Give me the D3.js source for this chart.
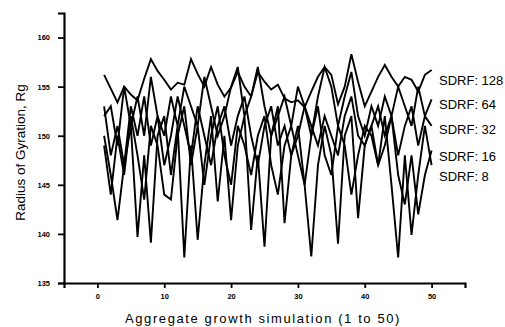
<!DOCTYPE html>
<html>
<head>
<meta charset="utf-8">
<script src="https://cdn.jsdelivr.net/npm/d3@7"></script>
<style>
  body { margin: 0; background: #fff; }
  svg { display: block; font-family: Arial, "Liberation Sans", sans-serif; }
</style>
</head>
<body>
<svg id="chart" width="505" height="327"></svg>
<script>
// simulation index 1..50
const runs = d3.range(1, 51);

const sdrf128 = [156.2, 154.8, 153.4, 155.0, 154.2, 153.6, 155.8, 157.8, 156.6, 155.7,
                 154.7, 155.4, 155.2, 157.8, 156.3, 155.0, 157.0, 155.2, 154.0, 154.9,
                 156.5, 155.0, 154.0, 156.5, 155.5, 154.7, 155.2, 153.8, 153.4, 153.6,
                 152.9, 154.5, 156.0, 157.0, 156.2, 153.2, 155.0, 158.3, 155.5, 153.0,
                 154.5, 156.0, 157.2, 156.0, 155.0, 156.0, 155.7, 154.5, 156.2, 156.7];
const sdrf64 = [152, 153, 149, 155, 151, 154, 150, 156, 152, 150,
                154, 151, 155, 153, 151, 156, 153, 150, 152, 155,
                157, 152, 154, 157, 153, 150, 152, 154, 151, 155,
                153, 150, 154, 157, 155, 151, 154, 156.5, 152, 150,
                153, 151, 154, 152, 155, 153, 151, 155, 152, 153.7];
const sdrf32 = [153, 148, 151, 147, 153, 150, 154, 149, 152, 147,
                150, 154, 151, 148, 153, 150, 147, 151, 153, 149,
                152, 154, 150, 147, 151, 153, 149, 151, 148, 150,
                153, 151, 149, 152, 150, 148, 152, 154, 150, 149,
                151, 153, 150, 152, 148, 151, 153, 149, 152, 151];
const sdrf16 = [149, 144, 150, 146, 152, 148, 143.5, 151, 149, 144,
                143.5, 150, 153, 147, 151, 145, 150, 153, 148, 145,
                151, 149, 146, 150, 152, 147, 144, 149, 151, 148,
                145, 150, 153, 148, 146, 151, 149, 144, 148, 151,
                150, 147, 149, 152, 146, 143, 148, 142, 146, 148.5];
const sdrf8 = [150, 146, 141.4, 147, 151, 139.7, 148, 139.1, 150, 152,
               146, 151, 137.6, 149, 139.4, 147, 152, 143.3, 150, 141.4,
               149, 152, 140.4, 148, 138.7, 150, 153, 141.1, 148, 151,
               145, 137.7, 147, 151, 148, 139, 150, 152, 141.6, 149,
               151, 147, 152, 145, 137.6, 148, 139.9, 146, 151, 147];

const seriesNames = ["SDRF: 128", "SDRF: 64", "SDRF: 32", "SDRF: 16", "SDRF: 8"];
const seriesValues = [sdrf128, sdrf64, sdrf32, sdrf16, sdrf8];
const legendY = [85, 109, 134, 161, 181];

const xTicks = [0, 10, 20, 30, 40, 50];
const yTicks = [135, 140, 145, 150, 155, 160];

const svg = d3.select("#chart");

const x = d3.scaleLinear().domain([-5, 55]).range([64, 465]);
const y = d3.scaleLinear().domain([135, 162.5]).range([283, 13]);

// lines
const line = d3.line()
    .x((d, i) => x(runs[i]))
    .y(d => y(d));

svg.append("g")
  .selectAll("path")
  .data(seriesValues)
  .join("path")
    .attr("d", line)
    .attr("fill", "none")
    .attr("stroke", "#000")
    .attr("stroke-width", 1.9)
    .attr("stroke-linejoin", "miter");

// x axis
const xAxis = svg.append("g").attr("transform", `translate(0,${y(135)})`);
xAxis.call(d3.axisBottom(x).tickValues(d3.range(-5, 56, 5)).tickSize(3).tickFormat(""));
xAxis.call(d3.axisBottom(x).tickValues(xTicks).tickSize(5).tickPadding(6).tickFormat(d3.format("d")));

// y axis
const yAxis = svg.append("g").attr("transform", `translate(${x(-5)},0)`);
yAxis.call(d3.axisLeft(y).tickValues(d3.range(135, 162.6, 2.5)).tickSize(3).tickFormat(""));
yAxis.call(d3.axisLeft(y).tickValues(yTicks).tickSize(6).tickPadding(8).tickFormat(d3.format("d")));

svg.selectAll(".domain")
    .attr("stroke", "#000")
    .attr("stroke-width", 2.2);
svg.selectAll(".tick line")
    .attr("stroke", "#000")
    .attr("stroke-width", 1.8);
svg.selectAll(".tick text")
    .attr("fill", "#000")
    .style("font-size", "7.5px")
    .style("font-weight", "bold");

// axis titles
svg.append("text")
    .attr("x", 263)
    .attr("y", 323)
    .attr("text-anchor", "middle")
    .style("font-size", "13px")
    .style("letter-spacing", "1.6px")
    .text("Aggregate growth simulation (1 to 50)");

svg.append("text")
    .attr("transform", `translate(25,${y(148.3)}) rotate(-90)`)
    .attr("text-anchor", "middle")
    .style("font-size", "13.5px")
    .text("Radius of Gyration, Rg");

// legend labels
svg.append("g")
  .selectAll("text")
  .data(seriesNames)
  .join("text")
    .attr("x", 439)
    .attr("y", (d, i) => legendY[i])
    .style("font-size", "13px")
    .text(d => d);
</script>
</body>
</html>
